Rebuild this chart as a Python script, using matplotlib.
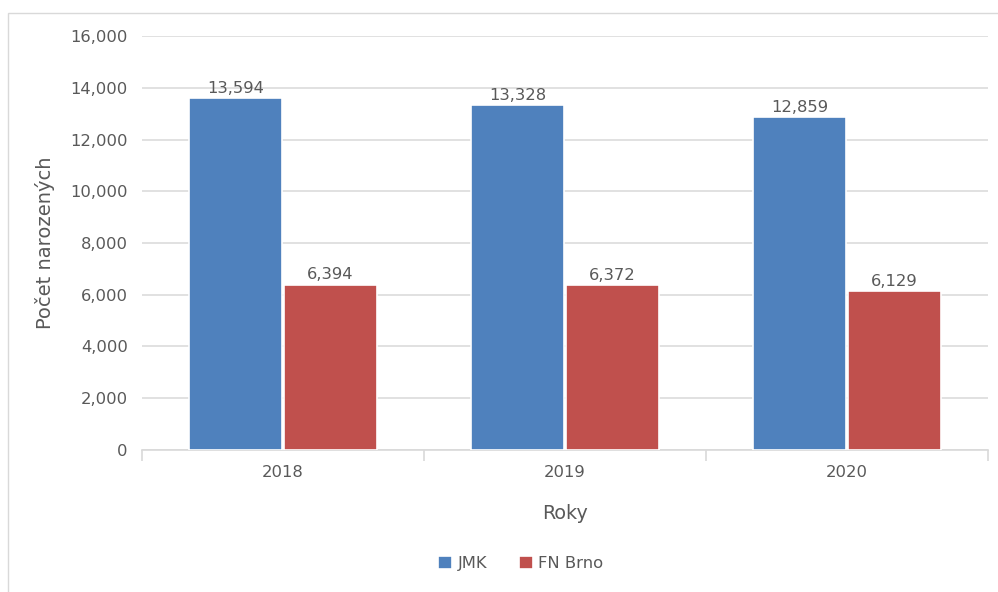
import matplotlib
matplotlib.use("Agg")
import matplotlib.pyplot as plt
from matplotlib.patches import Rectangle
import numpy as np

years = ["2018", "2019", "2020"]
jmk = [13594, 13328, 12859]
fn_brno = [6394, 6372, 6129]
series_names = ["JMK", "FN Brno"]
yticks = [0, 2000, 4000, 6000, 8000, 10000, 12000, 14000, 16000]

TXT = "#595959"
GRID = "#d9d9d9"
C1 = "#4f81bd"
C2 = "#c0504d"

plt.rcParams["font.family"] = ["DejaVu Sans"]

fig = plt.figure(figsize=(9.98, 5.92), dpi=100)
ax = fig.add_axes([0.142, 0.240, 0.848, 0.699])

x = np.arange(len(years))
w = 0.33
b1 = ax.bar(x - w / 2 - 0.003, jmk, w, color=C1, edgecolor="white", linewidth=1.2, label=series_names[0], zorder=3)
b2 = ax.bar(x + w / 2 + 0.003, fn_brno, w, color=C2, edgecolor="white", linewidth=1.2, label=series_names[1], zorder=3)

for bars, vals in ((b1, jmk), (b2, fn_brno)):
    for r, v in zip(bars, vals):
        ax.text(r.get_x() + r.get_width() / 2, v + 80, f"{v:,}", ha="center", va="bottom",
                fontsize=11.8, color=TXT, zorder=4)

ax.set_xlim(-0.5, 2.5)
ax.set_ylim(0, 16000)
ax.set_yticks(yticks)
ax.set_yticklabels([f"{t:,}" for t in yticks])
ax.yaxis.grid(True, color=GRID, linewidth=1.1, zorder=0)
ax.set_axisbelow(True)

ax.set_xticks(x)
ax.set_xticklabels(years)
ax.set_xticks([-0.5, 0.5, 1.5, 2.5], minor=True)
ax.tick_params(axis="x", which="major", length=0, pad=11, labelsize=11.8, labelcolor=TXT)
ax.tick_params(axis="x", which="minor", length=8, width=1.2, color=GRID, direction="out")
ax.tick_params(axis="y", length=0, pad=10, labelsize=11.8, labelcolor=TXT)

for s in ("top", "right", "left"):
    ax.spines[s].set_visible(False)
ax.spines["bottom"].set_color(GRID)
ax.spines["bottom"].set_linewidth(1.2)

ax.set_xlabel("Roky", fontsize=13.8, color=TXT, labelpad=17)
ax.set_ylabel("Počet narozených", fontsize=14, color=TXT)
ax.yaxis.set_label_coords((55 - 142) / 846.0, 0.5)

leg = fig.legend(handles=[b1, b2], labels=series_names, loc="center", bbox_to_anchor=(0.522, 0.048),
                 ncol=2, frameon=False, fontsize=11.8, handlelength=0.85, handleheight=0.85,
                 columnspacing=1.9, handletextpad=0.35)
for t in leg.get_texts():
    t.set_color(TXT)

fig.patches.append(Rectangle((8 / 998, -0.01), 1.0, (592 - 13) / 592 + 0.01, transform=fig.transFigure,
                             fill=False, edgecolor=GRID, linewidth=1.0))

fig.savefig("out.png", dpi=100, facecolor="white")
